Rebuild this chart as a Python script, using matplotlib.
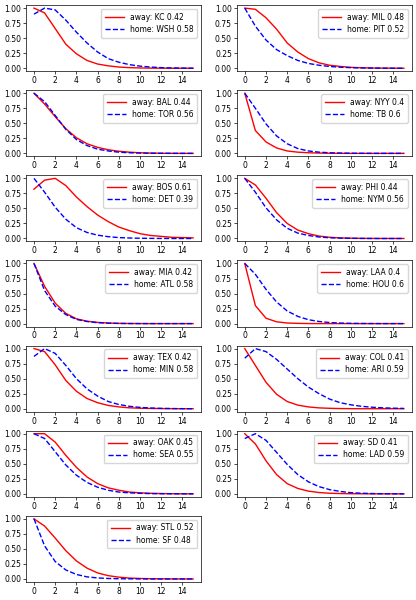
import matplotlib
matplotlib.use("Agg")
import matplotlib.pyplot as plt

# goals 0..15
x = list(range(16))

away_teams = ["KC", "MIL", "BAL", "NYY", "BOS", "PHI", "MIA", "LAA", "TEX", "COL", "OAK", "SD", "STL"]
home_teams = ["WSH", "PIT", "TOR", "TB", "DET", "NYM", "ATL", "HOU", "MIN", "ARI", "SEA", "LAD", "SF"]
away_prob = [0.42, 0.48, 0.44, 0.4, 0.61, 0.44, 0.42, 0.4, 0.42, 0.41, 0.45, 0.41, 0.52]
home_prob = [0.58, 0.52, 0.56, 0.6, 0.39, 0.56, 0.58, 0.6, 0.58, 0.59, 0.55, 0.59, 0.48]

kc = [1.0, 0.92, 0.66, 0.40, 0.24, 0.13, 0.07, 0.04, 0.02, 0.01, 0.005, 0.002, 0.001, 0.0, 0.0, 0.0]
wsh = [0.90, 1.0, 0.97, 0.80, 0.60, 0.42, 0.27, 0.16, 0.10, 0.06, 0.035, 0.02, 0.01, 0.005, 0.002, 0.001]
mil = [1.0, 0.98, 0.84, 0.65, 0.42, 0.27, 0.16, 0.09, 0.05, 0.03, 0.015, 0.008, 0.004, 0.002, 0.001, 0.0]
pit = [1.0, 0.70, 0.47, 0.31, 0.21, 0.13, 0.08, 0.05, 0.03, 0.017, 0.01, 0.005, 0.003, 0.001, 0.0, 0.0]
bal = [1.0, 0.82, 0.61, 0.41, 0.26, 0.16, 0.10, 0.06, 0.035, 0.02, 0.01, 0.005, 0.002, 0.001, 0.0, 0.0]
tor = [1.0, 0.86, 0.63, 0.40, 0.23, 0.13, 0.07, 0.04, 0.02, 0.01, 0.005, 0.002, 0.001, 0.0, 0.0, 0.0]
nyy = [1.0, 0.38, 0.19, 0.09, 0.04, 0.02, 0.01, 0.005, 0.002, 0.001, 0.0, 0.0, 0.0, 0.0, 0.0, 0.0]
tb = [1.0, 0.75, 0.49, 0.29, 0.16, 0.08, 0.04, 0.02, 0.01, 0.005, 0.002, 0.001, 0.0, 0.0, 0.0, 0.0]
bos = [0.82, 0.97, 1.0, 0.88, 0.69, 0.53, 0.39, 0.28, 0.19, 0.13, 0.08, 0.05, 0.035, 0.02, 0.015, 0.01]
det = [1.0, 0.77, 0.52, 0.32, 0.18, 0.10, 0.055, 0.03, 0.015, 0.008, 0.004, 0.002, 0.001, 0.0, 0.0, 0.0]
phi = [1.0, 0.89, 0.67, 0.43, 0.25, 0.14, 0.08, 0.04, 0.02, 0.01, 0.005, 0.002, 0.001, 0.0, 0.0, 0.0]
nym = [1.0, 0.77, 0.51, 0.31, 0.17, 0.09, 0.05, 0.025, 0.012, 0.006, 0.003, 0.001, 0.0, 0.0, 0.0, 0.0]
mia = [1.0, 0.62, 0.34, 0.17, 0.08, 0.04, 0.02, 0.01, 0.004, 0.002, 0.001, 0.0, 0.0, 0.0, 0.0, 0.0]
atl = [1.0, 0.55, 0.29, 0.15, 0.07, 0.035, 0.015, 0.007, 0.003, 0.001, 0.0, 0.0, 0.0, 0.0, 0.0, 0.0]
laa = [1.0, 0.30, 0.09, 0.03, 0.01, 0.004, 0.001, 0.0, 0.0, 0.0, 0.0, 0.0, 0.0, 0.0, 0.0, 0.0]
hou = [1.0, 0.82, 0.57, 0.36, 0.21, 0.12, 0.065, 0.035, 0.018, 0.009, 0.004, 0.002, 0.001, 0.0, 0.0, 0.0]
tex = [1.0, 0.95, 0.73, 0.47, 0.29, 0.17, 0.10, 0.055, 0.03, 0.015, 0.008, 0.004, 0.002, 0.001, 0.0, 0.0]
mn = [0.87, 1.0, 0.92, 0.72, 0.50, 0.33, 0.21, 0.12, 0.07, 0.04, 0.022, 0.012, 0.006, 0.003, 0.001, 0.0]
col = [1.0, 0.72, 0.44, 0.24, 0.12, 0.06, 0.03, 0.014, 0.007, 0.003, 0.001, 0.0, 0.0, 0.0, 0.0, 0.0]
ari = [0.84, 1.0, 0.95, 0.82, 0.66, 0.50, 0.36, 0.25, 0.16, 0.10, 0.065, 0.04, 0.025, 0.015, 0.009, 0.005]
oak = [1.0, 1.0, 0.86, 0.64, 0.44, 0.28, 0.17, 0.10, 0.06, 0.03, 0.017, 0.009, 0.005, 0.002, 0.001, 0.0]
sea = [1.0, 0.92, 0.70, 0.48, 0.31, 0.19, 0.11, 0.06, 0.03, 0.017, 0.009, 0.004, 0.002, 0.001, 0.0, 0.0]
sd = [1.0, 0.83, 0.55, 0.32, 0.17, 0.09, 0.045, 0.022, 0.01, 0.005, 0.002, 0.001, 0.0, 0.0, 0.0, 0.0]
lad = [0.92, 1.0, 0.89, 0.69, 0.49, 0.32, 0.20, 0.12, 0.07, 0.04, 0.02, 0.01, 0.005, 0.002, 0.001, 0.0]
stl = [1.0, 0.88, 0.68, 0.47, 0.30, 0.18, 0.10, 0.055, 0.03, 0.015, 0.008, 0.004, 0.002, 0.001, 0.0, 0.0]
sf = [1.0, 0.55, 0.29, 0.15, 0.075, 0.035, 0.017, 0.008, 0.004, 0.002, 0.001, 0.0, 0.0, 0.0, 0.0, 0.0]

away_curves = [kc, mil, bal, nyy, bos, phi, mia, laa, tex, col, oak, sd, stl]
home_curves = [wsh, pit, tor, tb, det, nym, atl, hou, mn, ari, sea, lad, sf]

fig, axes = plt.subplots(7, 2, figsize=(4.16, 6.0), dpi=100)
axes = axes.flatten()

for i in range(13):
    ax = axes[i]
    ax.plot(x, away_curves[i], color="red", linewidth=1,
            label="away: {} {}".format(away_teams[i], away_prob[i]))
    ax.plot(x, home_curves[i], color="blue", linestyle="--", linewidth=1,
            label="home: {} {}".format(home_teams[i], home_prob[i]))
    ax.set_xticks(range(0, 15, 2))
    ax.set_yticks([0, 0.25, 0.5, 0.75, 1.0])
    ax.tick_params(labelsize=5.5, length=2, width=0.5, pad=1.5)
    for s in ax.spines.values():
        s.set_linewidth(0.5)
    ax.legend(loc="upper right", fontsize=5.5, handlelength=2.5, borderpad=0.5,
              labelspacing=0.4)

axes[13].axis("off")

plt.tight_layout(pad=0.3, h_pad=0.3, w_pad=1.0)
plt.savefig("out.png")
